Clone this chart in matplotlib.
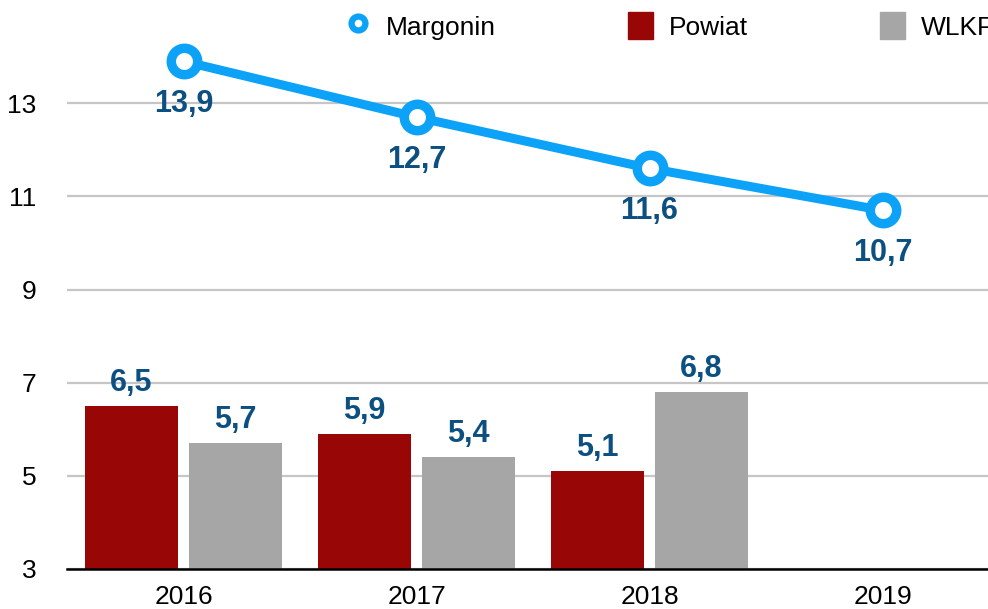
import numpy as np
import matplotlib.pyplot as plt
from matplotlib.lines import Line2D
from matplotlib.patches import Patch

plt.rcParams['font.family'] = ['Liberation Sans', 'DejaVu Sans']

years = ["2016", "2017", "2018", "2019"]
margonin = [13.9, 12.7, 11.6, 10.7]
powiat = [6.5, 5.9, 5.1]
wlkp = [5.7, 5.4, 6.8]

c_line = "#0BA2F7"
c_red = "#980606"
c_gray = "#A6A6A6"
c_lab = "#0C4F81"

W, H = 988, 609
fig = plt.figure(figsize=(W / 100, H / 100), dpi=100)
ax = fig.add_axes([67 / W, 40 / H, 932 / W, 559 / H])

x = np.arange(len(years))
xb = np.arange(len(powiat))
bw = 0.403
off = 0.223


def fmt(v):
    return f"{v:.1f}".replace(".", ",")


ax.bar(xb - off, powiat, bw, bottom=0, color=c_red, zorder=2)
ax.bar(xb + off, wlkp, bw, bottom=0, color=c_gray, zorder=2)

for xi, v in zip(xb - off, powiat):
    ax.annotate(fmt(v), (xi, v), xytext=(0, 6), textcoords="offset points",
                ha="center", va="bottom", fontsize=22, fontweight="bold", color=c_lab, zorder=5)
for xi, v in zip(xb + off, wlkp):
    ax.annotate(fmt(v), (xi, v), xytext=(0, 6), textcoords="offset points",
                ha="center", va="bottom", fontsize=22, fontweight="bold", color=c_lab, zorder=5)

ax.plot(x, margonin, color=c_line, lw=6.5, marker="o", ms=19, mew=6.8,
        mfc="white", mec=c_line, zorder=4, clip_on=False)
for xi, v in zip(x, margonin):
    ax.annotate(fmt(v), (xi, v), xytext=(0, -31), textcoords="offset points",
                ha="center", va="center", fontsize=22, fontweight="bold", color=c_lab, zorder=5)

ax.set_xlim(-0.5, 3.5)
ax.set_ylim(3, 15)
ax.set_yticks([3, 5, 7, 9, 11, 13])
ax.set_xticks(x)
ax.set_xticklabels(years)
ax.tick_params(axis="both", length=0, labelsize=19)
ax.tick_params(axis="y", pad=22)
ax.tick_params(axis="x", pad=11.5)
ax.grid(axis="y", color="#C6C6C6", lw=1.6, zorder=1)
for s in ["top", "right", "left"]:
    ax.spines[s].set_visible(False)
ax.spines["bottom"].set_color("black")
ax.spines["bottom"].set_linewidth(1.8)
ax.spines["bottom"].set_zorder(3)

handles = [
    Line2D([], [], color=c_line, lw=0, marker="o", ms=10, mew=4.5, mfc="white", mec=c_line),
    Patch(color=c_red),
    Patch(color=c_gray),
]
fig.legend(handles, ["Margonin", "Powiat", "WLKP"], loc="center left",
           bbox_to_anchor=(345 / W, 1 - 26 / H), ncol=3, frameon=False, fontsize=19,
           handlelength=0.95, handleheight=1.15, handletextpad=0.6, columnspacing=5.0,
           borderpad=0, borderaxespad=0)

fig.savefig("out.png", dpi=100)
